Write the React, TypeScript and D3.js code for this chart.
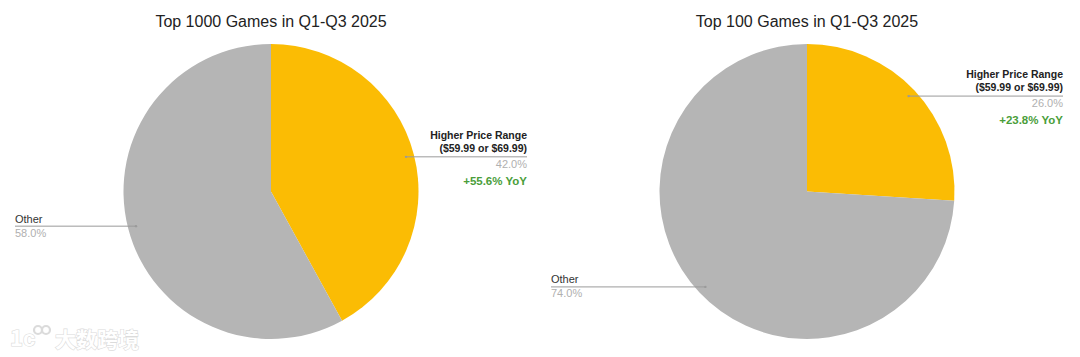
import React from "react";
import * as d3 from "d3";

const titles = ["Top 1000 Games in Q1-Q3 2025", "Top 100 Games in Q1-Q3 2025"];
const categories = ["Higher Price Range", "Other"];
const categorySub = ["($59.99 or $69.99)", ""];
const top1000Shares = [42.0, 58.0];
const top100Shares = [26.0, 74.0];
const yoyLabels = ["+55.6% YoY", "+23.8% YoY"];
const sliceColors = ["#FBBC04", "#B5B5B5"];

const W = 1080;
const H = 357;
const R = 147.5;
const CY = 191.5;
const centers = [271, 807];
const FONT = "Arial, 'Liberation Sans', Helvetica, sans-serif";

type PieProps = { cx: number; values: number[]; title: string; yoy: string };

function Pie({ cx, values, title, yoy }: PieProps) {
  const data = values.map((v, i) => ({ v, i }));
  const pie = d3.pie<{ v: number; i: number }>().value((d) => d.v).sort(null).startAngle(0).endAngle(2 * Math.PI);
  const arcs = pie(data);
  const arc = d3.arc<d3.PieArcDatum<{ v: number; i: number }>>().innerRadius(0).outerRadius(R);
  const fmt = d3.format(".1f");
  return (
    <g>
      <text x={cx} y={27} textAnchor="middle" fontFamily={FONT} fontSize={16} fill="#222">
        {title}
      </text>
      <g transform={`translate(${cx},${CY})`}>
        {arcs.map((a) => (
          <path key={a.index} d={arc(a) || ""} fill={sliceColors[a.index]} />
        ))}
        {arcs.map((a) => {
          const mid = (a.startAngle + a.endAngle) / 2;
          const rr = R * 0.945;
          const px = Math.sin(mid) * rr;
          const py = -Math.cos(mid) * rr;
          const right = Math.sin(mid) > 0;
          const lx = right ? 256 : -256;
          const anchor = right ? "end" : "start";
          const isHigh = a.index === 0;
          return (
            <g key={"l" + a.index}>
              <line x1={px} y1={py} x2={lx} y2={py} stroke="#9a9a9a" strokeWidth={1} />
              <circle cx={px} cy={py} r={1.2} fill="#9a9a9a" />
              {isHigh ? (
                <>
                  <text x={lx} y={py - 18} textAnchor={anchor} fontFamily={FONT} fontSize={10.5} fontWeight="bold" fill="#222">
                    {categories[a.index]}
                  </text>
                  <text x={lx} y={py - 5} textAnchor={anchor} fontFamily={FONT} fontSize={10.5} fontWeight="bold" fill="#222">
                    {categorySub[a.index]}
                  </text>
                  <text x={lx} y={py + 11} textAnchor={anchor} fontFamily={FONT} fontSize={11} fill="#b0b0b0">
                    {fmt(a.data.v)}%
                  </text>
                  <text x={lx} y={py + 28} textAnchor={anchor} fontFamily={FONT} fontSize={11.5} fontWeight="bold" fill="#4a9e3a">
                    {yoy}
                  </text>
                </>
              ) : (
                <>
                  <text x={lx} y={py - 3.5} textAnchor={anchor} fontFamily={FONT} fontSize={11} fill="#333">
                    {categories[a.index]}
                  </text>
                  <text x={lx} y={py + 10.5} textAnchor={anchor} fontFamily={FONT} fontSize={11} fill="#b0b0b0">
                    {fmt(a.data.v)}%
                  </text>
                </>
              )}
            </g>
          );
        })}
      </g>
    </g>
  );
}

export default function App() {
  const shares = [top1000Shares, top100Shares];
  return (
    <svg width={W} height={H} style={{ position: "absolute", left: 0, top: 0, background: "#fff" }}>
      <rect width={W} height={H} fill="#fff" />
      {centers.map((cx, i) => (
        <Pie key={i} cx={cx} values={shares[i]} title={titles[i]} yoy={yoyLabels[i]} />
      ))}
      <g opacity={0.9}>
        <text x={10} y={346} fontFamily="'Noto Sans CJK SC', sans-serif" fontSize={22} fontWeight="bold" fill="#fff" stroke="#d8d8d8" strokeWidth={1.2} paintOrder="stroke">
          {"1ᴄ"}
        </text>
        <circle cx={38} cy={330} r={4} fill="none" stroke="#d8d8d8" strokeWidth={2.2} />
        <circle cx={46} cy={330} r={4} fill="none" stroke="#d8d8d8" strokeWidth={2.2} />
        <text x={55} y={347} fontFamily="'Noto Sans CJK SC', sans-serif" fontSize={21} fontWeight="bold" fill="#fff" stroke="#d8d8d8" strokeWidth={1.2} paintOrder="stroke">
          大数跨境
        </text>
      </g>
    </svg>
  );
}
